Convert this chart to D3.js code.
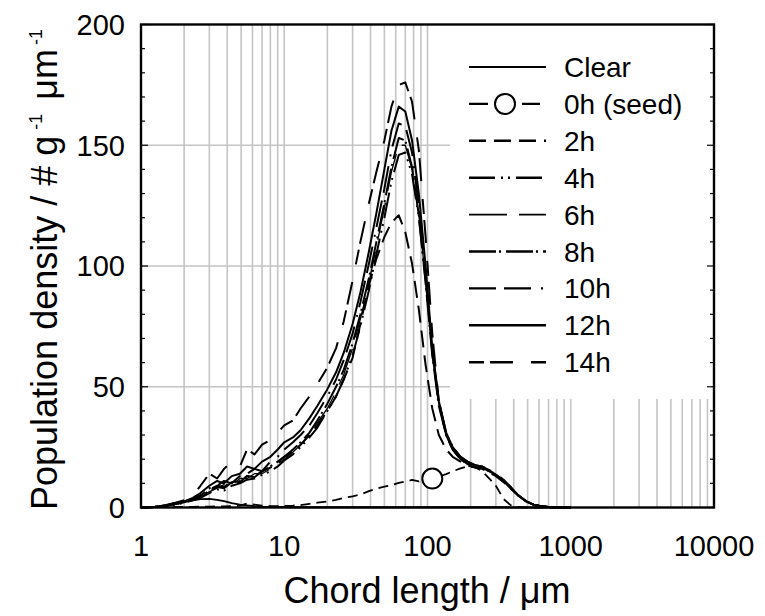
<!DOCTYPE html>
<html>
<head>
<meta charset="utf-8">
<script src="https://cdn.jsdelivr.net/npm/d3@7"></script>
<style>
  body { margin: 0; background: #fff; }
  text { font-family: Arial, "Liberation Sans", sans-serif; fill: #000; }
</style>
</head>
<body>
<svg id="chart" width="765" height="616"></svg>
<script>
// chord length grid (um) shared by every series
const chordLength = [1, 1.25, 1.5, 1.75, 2, 2.3, 2.6, 3, 3.4, 3.8, 4.3, 4.9, 5.5, 6.2, 7, 8, 9, 10, 11.5, 13,
  15, 17, 20, 23, 26, 30, 34, 39, 44, 50, 56, 63, 70, 78, 87, 97, 108, 120, 135, 150,
  170, 190, 215, 240, 270, 300, 340, 380, 430, 490, 550, 620, 700, 800, 1000];

// population density, # g-1 um-1
const clear = [0, 0.3, 1, 2, 2.5, 3, 3.5, 3.6, 3.2, 2.6, 1.8, 1.2, 0.9, 0.6, 0.4, 0.3, 0.2, 0.2, 0.1, 0.1,
  0.1, 0.1, 0.1, 0.1, 0.1, 0.1, 0.1, 0.1, 0.1, 0.1, 0.1, 0.1, 0.1, 0.1, 0.1, 0.1, 0.1, 0.1, 0.1, 0.1,
  0.1, 0.1, 0.1, 0.1, 0.1, 0.1, 0.1, 0, 0, 0, 0, 0, 0, 0, 0];
const seed0h = [0, 0.1, 0.2, 0.2, 0.3, 0.3, 0.4, 0.4, 0.5, 0.5, 0.6, 0.8, 1.6, 1.2, 0.8, 0.6, 0.6, 0.7, 0.8, 1,
  1.5, 2, 2.5, 3.2, 4, 4.6, 5.4, 6.8, 7.8, 8.6, 9.3, 10.2, 10.8, 11.4, 10.8, 11.6, 12, 12.8, 13.8, 15,
  16.2, 17, 16.6, 15.2, 12, 9, 3.5, 1, 0.2, 0, 0, 0, 0, 0, 0];
const h2 = [0, 0.2, 0.6, 1.5, 2.5, 3.5, 5, 7.5, 9, 8.5, 11, 10.5, 13, 13, 15, 16.5, 18.5, 21, 23, 26,
  30, 34, 40, 46, 53, 62, 76, 92, 103, 112, 118, 121, 114, 101, 82, 59, 41, 30, 24, 21,
  19, 17.5, 16.5, 16, 14.5, 13, 10.5, 8, 5, 2.5, 1.2, 0.5, 0.2, 0.1, 0];
const h4 = [0, 0.2, 0.5, 1.2, 2, 3, 4, 6, 7.5, 7, 9, 10, 11.5, 12, 13.5, 15, 17, 19.5, 22, 25,
  29, 33, 40, 46, 53, 63, 75, 90, 105, 120, 135, 146, 147, 138, 120, 94, 65, 44, 31, 25,
  21, 19, 17.5, 17, 15.5, 13.5, 11, 8.5, 5, 2.5, 1.2, 0.5, 0.2, 0.1, 0];
const h6 = [0, 0.2, 0.6, 1.3, 2, 3, 4.5, 6.5, 8, 9.5, 9, 12, 12, 14, 14, 16, 18, 20, 23, 26,
  30, 35, 41, 48, 55, 66, 78, 93, 108, 124, 139, 150, 150, 140, 121, 94, 64, 43, 30, 24,
  20.5, 18.5, 17, 16.5, 15, 13.5, 11, 8, 5, 2.5, 1.2, 0.5, 0.2, 0.1, 0];
const h8 = [0, 0.2, 0.6, 1.4, 2.2, 3.2, 4.5, 7, 8.5, 8, 10.5, 11, 13, 12.5, 15, 17, 19, 21, 24, 27,
  31, 36, 43, 50, 57, 68, 80, 95, 110, 126, 141, 153, 152, 141, 121, 93, 63, 42, 30, 24,
  20, 18, 17, 16.5, 15, 13.5, 11, 8.5, 5, 2.5, 1.2, 0.5, 0.2, 0.1, 0];
const h10 = [0, 0.2, 0.7, 1.5, 2.5, 3.5, 5, 8, 9, 11, 10, 13, 14, 16, 15, 19, 21, 24, 27, 30,
  34, 39, 46, 53, 61, 72, 85, 101, 116, 132, 148, 159, 158, 147, 125, 96, 64, 43, 30, 24,
  20.5, 18.5, 17, 16.5, 15, 13.5, 11, 8, 5, 2.5, 1.2, 0.5, 0.2, 0.1, 0];
const h12 = [0, 0.2, 0.8, 1.8, 2.5, 4, 6, 9, 11, 10, 13, 14, 17, 16, 19, 21, 24, 27, 29, 32,
  37, 42, 49, 56, 64, 76, 89, 106, 122, 140, 156, 166, 164, 152, 130, 100, 66, 44, 31, 25,
  21, 19, 17.5, 17, 15.5, 13.5, 11, 8, 5, 2.5, 1.2, 0.5, 0.2, 0.1, 0];
const h14 = [0, 0.3, 1, 2, 3, 5, 9, 14, 12, 16, 19, 17, 24, 22, 26, 28, 31, 34, 36, 41,
  46, 51, 58, 66, 77, 94, 110, 126, 139, 152, 166, 175, 176, 168, 148, 112, 72, 44, 30, 24,
  20, 18, 17.5, 17, 15.5, 14, 11.5, 8.5, 5, 2.5, 1.2, 0.5, 0.2, 0.1, 0];

const seriesNames = ["Clear", "0h (seed)", "2h", "4h", "6h", "8h", "10h", "12h", "14h"];
const seriesValues = [clear, seed0h, h2, h4, h6, h8, h10, h12, h14];
const seedMarkerAt = [108];

const xTickLabels = [1, 10, 100, 1000, 10000];
const yTicks = [0, 50, 100, 150, 200];

// line look for each series, same order as seriesNames
const lineStyles = [
  { dash: null, width: 1.8 },
  { dash: "10,6", width: 1.8 },
  { dash: "17,8", width: 2 },
  { dash: "26,6,2,5,2,6", width: 2 },
  { dash: "38,12", width: 1.3 },
  { dash: "27,3,2,5", width: 2 },
  { dash: "27,8,27,10,2,8", width: 2 },
  { dash: null, width: 2 },
  { dash: "15,6,23,18", width: 2 }
];

const svg = d3.select("#chart");
const plotL = 141, plotR = 714, plotT = 24.5, plotB = 507.5;

const x = d3.scaleLog().domain([1, 10000]).range([plotL, plotR]);
const y = d3.scaleLinear().domain([0, 200]).range([plotB, plotT]);

// grid
const grid = svg.append("g").attr("stroke", "#c4c4c4").attr("stroke-width", 1.6);
grid.selectAll("line.vx")
  .data(x.ticks().filter(d => d > 1 && d < 10000))
  .enter().append("line")
  .attr("x1", d => x(d)).attr("x2", d => x(d))
  .attr("y1", plotT).attr("y2", plotB);
grid.selectAll("line.hy")
  .data(yTicks.filter(d => d > 0 && d < 200))
  .enter().append("line")
  .attr("x1", plotL).attr("x2", plotR)
  .attr("y1", d => y(d)).attr("y2", d => y(d));

// legend background hides the grid in the upper right
svg.append("rect")
  .attr("x", 450).attr("y", plotT)
  .attr("width", plotR - 450).attr("height", 399 - plotT)
  .attr("fill", "#fff");

// curves
const line = d3.line()
  .x((d, i) => x(chordLength[i]))
  .y(d => y(d));

const curves = svg.append("g").attr("fill", "none").attr("stroke", "#000")
  .attr("stroke-linejoin", "round");
seriesValues.forEach((vals, i) => {
  curves.append("path")
    .attr("d", line(vals))
    .attr("stroke-width", lineStyles[i].width)
    .attr("stroke-dasharray", lineStyles[i].dash);
});

// seed marker
svg.selectAll("circle.seed")
  .data(seedMarkerAt)
  .enter().append("circle")
  .attr("cx", d => x(d))
  .attr("cy", d => y(seed0h[chordLength.indexOf(d)]))
  .attr("r", 10)
  .attr("fill", "#fff").attr("stroke", "#000").attr("stroke-width", 2);

// frame and ticks
const ax = svg.append("g").attr("stroke", "#000");
const minorY = d3.range(0, 201, 10);
["left", "right"].forEach(side => {
  const x0 = side === "left" ? plotL : plotR;
  const dir = side === "left" ? 1 : -1;
  ax.selectAll("line.t" + side)
    .data(minorY)
    .enter().append("line")
    .attr("x1", x0).attr("x2", d => x0 + dir * (d % 50 === 0 ? 7 : 4))
    .attr("y1", d => y(d)).attr("y2", d => y(d))
    .attr("stroke-width", 1.2);
});
ax.append("rect")
  .attr("x", plotL).attr("y", plotT)
  .attr("width", plotR - plotL).attr("height", plotB - plotT)
  .attr("fill", "none").attr("stroke-width", 2.4);

// tick labels
svg.selectAll("text.xt")
  .data(xTickLabels)
  .enter().append("text")
  .attr("x", d => x(d)).attr("y", 556)
  .attr("text-anchor", "middle")
  .style("font-size", "29px")
  .text(d => d);
svg.selectAll("text.yt")
  .data(yTicks)
  .enter().append("text")
  .attr("x", 125).attr("y", d => y(d))
  .attr("dy", "0.36em")
  .attr("text-anchor", "end")
  .style("font-size", "29px")
  .text(d => d);

// axis titles
svg.append("text")
  .attr("x", 427).attr("y", 603)
  .attr("text-anchor", "middle")
  .style("font-size", "36px")
  .text("Chord length / \u03bcm");

const yt = svg.append("text")
  .attr("transform", "translate(57,510) rotate(-90)")
  .attr("text-anchor", "start")
  .style("font-size", "36px");
yt.append("tspan").text("Population density / # g");
yt.append("tspan").attr("dx", 6).attr("dy", -15).style("font-size", "18px").text("-1");
yt.append("tspan").attr("dx", 14).attr("dy", 15).text("\u03bcm");
yt.append("tspan").attr("dx", 4).attr("dy", -15).style("font-size", "18px").text("-1");

// legend
const legend = svg.append("g");
seriesNames.forEach((name, i) => {
  const ly = 67 + i * 36.9;
  legend.append("line")
    .attr("x1", 469).attr("x2", 546)
    .attr("y1", ly).attr("y2", ly)
    .attr("stroke", "#000")
    .attr("stroke-width", lineStyles[i].width + 0.4)
    .attr("stroke-dasharray", i === 1 ? "19,34,18,10" : lineStyles[i].dash);
  if (i === 1) {
    legend.append("circle")
      .attr("cx", 505).attr("cy", ly).attr("r", 10)
      .attr("fill", "#fff").attr("stroke", "#000").attr("stroke-width", 2);
  }
  legend.append("text")
    .attr("x", 564).attr("y", ly)
    .attr("dy", "0.36em")
    .style("font-size", "28px")
    .text(name);
});
</script>
</body>
</html>
